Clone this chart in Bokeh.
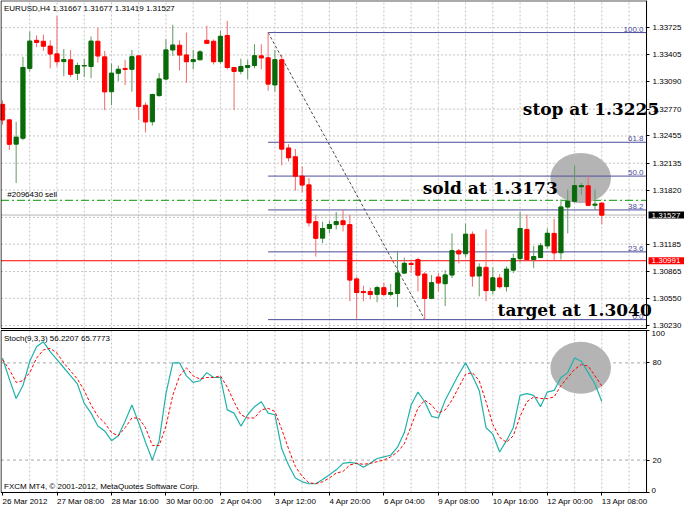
from bokeh.plotting import figure
from bokeh.models import (ColumnDataSource, FixedTicker, PrintfTickFormatter,
                          Label, Range1d, LinearAxis)
from bokeh.core.properties import value
from bokeh.embed import file_html
from bokeh.resources import INLINE

# ---------------- data ----------------
header_text = "EURUSD,H4  1.31667 1.31677 1.31419 1.31527"
stoch_header = "Stoch(9,3,3) 56.2207 65.7773"
copyright_text = "FXCM MT4, \u00a9 2001-2012, MetaQuotes Software Corp."

opens = [1.32826, 1.32644, 1.32359, 1.32428, 1.33247, 1.33577, 1.33566, 1.33509, 1.33418, 1.33327,
         1.33349, 1.33190, 1.33276, 1.33270, 1.33566, 1.33383, 1.32974, 1.33190, 1.33247, 1.33236,
         1.33395, 1.32815, 1.32621, 1.32928, 1.33122, 1.33463, 1.33520, 1.33406, 1.33327, 1.33349,
         1.33577, 1.33566, 1.33327, 1.33634, 1.33258, 1.33213, 1.33258, 1.33281, 1.33395, 1.33372,
         1.33053, 1.33349, 1.32314, 1.32211, 1.31984, 1.31881, 1.31449, 1.31256, 1.31369, 1.31415,
         1.31460, 1.31415, 1.30778, 1.30630, 1.30630, 1.30596, 1.30675, 1.30596, 1.30607, 1.30846,
         1.30960, 1.31005, 1.30835, 1.30550, 1.30800, 1.30721, 1.30823, 1.31108, 1.31073, 1.31301,
         1.30812, 1.30914, 1.30641, 1.30789, 1.30687, 1.30880, 1.31016, 1.31358, 1.31005, 1.31028,
         1.31165, 1.31312, 1.31085, 1.31620, 1.31688, 1.31859, 1.31870, 1.31642, 1.31667]
highs = [1.32871, 1.32650, 1.32621, 1.33383, 1.33679, 1.33634, 1.33645, 1.33577, 1.33862, 1.33475,
         1.33463, 1.33315, 1.33361, 1.33623, 1.33725, 1.33452, 1.33304, 1.33281, 1.33349, 1.33463,
         1.33400, 1.32849, 1.32951, 1.33190, 1.33588, 1.33759, 1.33577, 1.33668, 1.33463, 1.33463,
         1.33748, 1.33588, 1.33691, 1.33805, 1.33262, 1.33361, 1.33349, 1.33531, 1.33531, 1.33668,
         1.33463, 1.33406, 1.32359, 1.32302, 1.32098, 1.31961, 1.31529, 1.31449, 1.31460, 1.31563,
         1.31586, 1.31529, 1.30800, 1.30698, 1.30675, 1.30698, 1.30732, 1.30721, 1.31108, 1.31028,
         1.30982, 1.31028, 1.30857, 1.30823, 1.30846, 1.30880, 1.31312, 1.31130, 1.31426, 1.31335,
         1.30960, 1.31358, 1.30914, 1.30835, 1.30925, 1.31073, 1.31563, 1.31529, 1.31165, 1.31199,
         1.31369, 1.31483, 1.31711, 1.31825, 1.32109, 1.31904, 1.31984, 1.31825, 1.31677]
lows = [1.32587, 1.32291, 1.31904, 1.32405, 1.33213, 1.33497, 1.33452, 1.33247, 1.33270, 1.33156,
        1.33145, 1.33110, 1.33145, 1.33133, 1.33315, 1.32758, 1.32815, 1.33099, 1.33053, 1.32974,
        1.32644, 1.32496, 1.32576, 1.32917, 1.33110, 1.33395, 1.33224, 1.33076, 1.33236, 1.33338,
        1.33540, 1.33293, 1.33304, 1.33236, 1.32758, 1.33179, 1.33122, 1.33247, 1.33236, 1.32985,
        1.32974, 1.32109, 1.32155, 1.31813, 1.31790, 1.31392, 1.31039, 1.31199, 1.31312, 1.31358,
        1.31335, 1.30516, 1.30311, 1.30516, 1.30539, 1.30505, 1.30573, 1.30573, 1.30448, 1.30835,
        1.30846, 1.30630, 1.30300, 1.30539, 1.30630, 1.30459, 1.30789, 1.30960, 1.31028, 1.30687,
        1.30573, 1.30516, 1.30596, 1.30664, 1.30630, 1.30846, 1.30971, 1.30994, 1.30903, 1.31025,
        1.31130, 1.30994, 1.31005, 1.31312, 1.31677, 1.31767, 1.31640, 1.31586, 1.31419]
closes = [1.32644, 1.32359, 1.32439, 1.33258, 1.33566, 1.33554, 1.33509, 1.33418, 1.33327, 1.33349,
          1.33179, 1.33281, 1.33281, 1.33566, 1.33395, 1.32974, 1.33190, 1.33236, 1.33236, 1.33383,
          1.32803, 1.32621, 1.32940, 1.33122, 1.33463, 1.33520, 1.33406, 1.33327, 1.33349, 1.33440,
          1.33543, 1.33327, 1.33623, 1.33258, 1.33213, 1.33270, 1.33281, 1.33395, 1.33372, 1.33065,
          1.33349, 1.32302, 1.32200, 1.31984, 1.31881, 1.31437, 1.31256, 1.31369, 1.31415, 1.31449,
          1.31415, 1.30766, 1.30618, 1.30618, 1.30596, 1.30675, 1.30596, 1.30618, 1.30846, 1.30960,
          1.30948, 1.30823, 1.30550, 1.30732, 1.30732, 1.30823, 1.31108, 1.31073, 1.31301, 1.30812,
          1.30914, 1.30641, 1.30789, 1.30687, 1.30891, 1.31016, 1.31369, 1.31005, 1.31039, 1.31165,
          1.31312, 1.31085, 1.31620, 1.31688, 1.31870, 1.31870, 1.31642, 1.31654, 1.31527]

stoch_main = [83, 70, 58, 66, 81, 90, 93, 87, 82, 77, 72, 67, 55, 49, 41, 38, 32, 35, 44, 54,
              43, 31, 20, 32, 61, 80, 80, 72, 68, 69, 74, 71, 71, 51, 49, 41, 48, 53, 56, 49,
              48, 27, 17, 9, 6.6, 5.4, 5.4, 8, 11, 14, 18, 18.6, 18, 15.6, 18, 21, 22, 23, 28, 37,
              54, 62, 56, 47, 46, 57, 65, 73, 80, 72, 63, 40, 36, 25, 32, 40, 60, 61, 60, 53,
              62, 63, 71, 74, 83, 81, 74, 67, 56.2207]
stoch_signal = [82, 76, 68, 69, 74, 83, 88, 89, 86, 80, 75, 70, 63, 54, 47, 43, 37, 35, 40, 46,
                46, 40, 29, 29, 41, 60, 72, 77, 72, 70, 71, 71, 72, 65, 56, 48, 46, 46, 51, 52,
                50, 39, 27, 16, 10, 6, 5.5, 6.6, 9, 12, 13, 17, 18, 17.4, 18, 19, 20, 22, 25, 30,
                41, 52, 57, 54, 49, 51, 57, 65, 73, 74, 69, 56, 42, 34, 31, 35, 47, 56, 59, 58,
                58, 59, 66, 71, 76, 79, 78, 72, 65.7773]

x_tick_bars = [0, 8, 16, 24, 32, 40, 48, 56, 64, 72, 80, 88]
x_tick_labels = ["26 Mar 2012", "27 Mar 08:00", "28 Mar 16:00", "30 Mar 00:00", "2 Apr 04:00",
                 "3 Apr 12:00", "4 Apr 20:00", "6 Apr 04:00", "9 Apr 08:00", "10 Apr 16:00",
                 "12 Apr 00:00", "13 Apr 08:00"]
price_grid = [1.33725, 1.33405, 1.33090, 1.32770, 1.32455, 1.32135, 1.31820, 1.31500,
              1.31185, 1.30865, 1.30550, 1.30230]
price_axis_ticks = [1.33725, 1.33405, 1.33090, 1.32770, 1.32455, 1.32135, 1.31820,
                    1.31185, 1.30865, 1.30550, 1.30230]
stoch_ticks = [0, 20, 80, 100]
stoch_levels = [20, 80]
stoch_end_labels = ["100", "0"]

fib_anchor_bars = [39, 62]
fib_levels = [1.33668, 1.32381, 1.31984, 1.31587, 1.31095, 1.30300]
fib_labels = ["100.0", "61.8", "50.0", "38.2", "23.6", "0.0"]

order_price = 1.31700
order_label = "#2096430 sell"
bid_price = 1.31527
alert_price = 1.30991

notes = ["stop at 1.3225", "sold at 1.3173", "target at 1.3040"]
note_bars = [76.4, 61.7, 72.7]
note_prices = [1.32769, 1.31842, 1.30414]

# highlight ellipses (centre bar, centre value, width in bars, height in value units)
main_ring = (84.9, 1.31961, 8.9, 0.0059)
stoch_ring = (84.9, 77, 8.9, 32)

# ---------------- layout constants ----------------
W, H = 684, 509
FONT = "Liberation Sans"
SMALL = "8px"
GRID_COLOR = "#c4c4c4"
FIB_COLOR = "#4c4c9c"

BAR_PX = 6.81
X_START = -0.297
X_END = X_START + W / BAR_PX
X_LEFT = X_START + 0.5 / BAR_PX          # left border of both panes
X_EDGE = 94.57                           # right border of both panes (price scale line)

MAIN_TOP, MAIN_BOTTOM = 1.34040, 1.30196  # main pane border prices
PRICE_PX = 328 / (1.34044 - 1.30196)      # pixels per price unit
Y_START, Y_END = 1.34044 - H / PRICE_PX, 1.34044
ST_PX = 162 / 100.0                       # pixels per stochastic unit (pane 330..492 px)
ST_START, ST_END = -(H - 492) / ST_PX, 100 + 330 / ST_PX

n = len(opens)
bars = list(range(n))
up = [c >= o for o, c in zip(opens, closes)]
half = 0.31
src = ColumnDataSource(dict(
    x=bars, o=opens, h=highs, l=lows, c=closes,
    top=[max(o, c) for o, c in zip(opens, closes)],
    bottom=[min(o, c) for o, c in zip(opens, closes)],
    x0=[b - half for b in bars], x1=[b + half for b in bars],
    body=["#0a6a0a" if u else "#ff0000" for u in up],
    wick=["#5f9c5f" if u else "#f06a6a" for u in up],
))

p = figure(width=W, height=H, x_range=Range1d(X_START, X_END), y_range=Range1d(Y_START, Y_END),
           x_axis_location=None, y_axis_location=None,
           output_backend="svg", toolbar_location=None, min_border=0)
p.extra_y_ranges = {"stoch": Range1d(ST_START, ST_END)}
p.outline_line_color = None
p.background_fill_color = "white"
p.border_fill_color = "white"
p.xgrid.visible = False
p.ygrid.visible = False

vgrid = list(range(4, 96, 4))
# ---- main pane grid ----
p.segment(x0=[X_LEFT] * len(price_grid), y0=price_grid, x1=[X_EDGE] * len(price_grid), y1=price_grid,
          line_color=GRID_COLOR, line_dash="2 2", line_width=1)
p.segment(x0=vgrid, y0=[MAIN_BOTTOM] * len(vgrid), x1=vgrid, y1=[MAIN_TOP] * len(vgrid),
          line_color=GRID_COLOR, line_dash="2 2", line_width=1)
# ---- stochastic pane grid ----
p.segment(x0=vgrid, y0=[0] * len(vgrid), x1=vgrid, y1=[100] * len(vgrid), y_range_name="stoch",
          line_color=GRID_COLOR, line_dash="2 2", line_width=1)
p.segment(x0=[X_LEFT] * 2, y0=stoch_levels, x1=[X_EDGE] * 2, y1=stoch_levels, y_range_name="stoch",
          line_color="#a8a8a8", line_dash="3 3", line_width=1)

# ---- horizontal order / price lines ----
for loc, col, dash in ((alert_price, "#ff0000", "solid"), (bid_price, "#b4b4b4", "solid"),
                       (order_price, "#009900", "8 3 2 3")):
    p.segment(x0=[X_LEFT], y0=[loc], x1=[X_EDGE], y1=[loc], line_color=col, line_width=1,
              line_dash=dash)

cx, cy, cw, ch = main_ring
p.ellipse(x=[cx], y=[cy], width=[cw], height=[ch], fill_color="#b4b4b4", line_color=None)
cx, cy, cw, ch = stoch_ring
p.ellipse(x=[cx], y=[cy], width=[cw], height=[ch], fill_color="#b4b4b4", line_color=None,
          y_range_name="stoch")

# ---- Fibonacci retracement ----
p.segment(x0=[fib_anchor_bars[0]] * len(fib_levels), y0=fib_levels,
          x1=[X_EDGE] * len(fib_levels), y1=fib_levels, line_color=FIB_COLOR, line_width=1)
p.line(x=fib_anchor_bars, y=[fib_levels[0], fib_levels[-1]], line_color="#505050",
       line_width=1, line_dash="3 2")
for lvl, txt in zip(fib_levels, fib_labels):
    p.add_layout(Label(x=X_EDGE, y=lvl, x_offset=-3, y_offset=1, text=txt,
                       text_align="right", text_baseline="bottom",
                       text_font=FONT, text_font_size=SMALL, text_color=FIB_COLOR))

# ---- candles ----
p.segment(x0="x", y0="h", x1="x", y1="l", line_color="wick", line_width=1, source=src)
p.vbar(x="x", top="top", bottom="bottom", width=2 * half, fill_color="body",
       line_color="body", line_width=1, source=src)
p.segment(x0="x0", y0="c", x1="x1", y1="c", line_color="body", line_width=1, source=src)

# ---- stochastic lines ----
p.line(x=bars, y=stoch_main, line_color="#20b2aa", line_width=1.2, y_range_name="stoch")
p.line(x=bars, y=stoch_signal, line_color="#ff0000", line_width=1, line_dash="3 2",
       y_range_name="stoch")

# ---- pane borders ----
p.quad(left=[X_LEFT], right=[X_EDGE], top=[MAIN_TOP], bottom=[MAIN_BOTTOM],
       fill_color=None, line_color="black", line_width=1)
p.quad(left=[X_LEFT], right=[X_EDGE], top=[100], bottom=[0], y_range_name="stoch",
       fill_color=None, line_color="black", line_width=1)

# ---- axes (drawn at the pane edge) ----
price_axis = LinearAxis(ticker=FixedTicker(ticks=price_axis_ticks),
                        formatter=PrintfTickFormatter(format="%.5f"),
                        fixed_location=X_EDGE, bounds=(MAIN_BOTTOM, MAIN_TOP))
stoch_axis = LinearAxis(y_range_name="stoch", ticker=FixedTicker(ticks=stoch_ticks),
                        fixed_location=X_EDGE, bounds=(0, 100),
                        major_label_overrides={0: "", 100: ""})
time_axis = LinearAxis(y_range_name="stoch", ticker=FixedTicker(ticks=x_tick_bars),
                       fixed_location=0, bounds=(X_LEFT, X_EDGE),
                       major_label_overrides={b: "" for b in x_tick_bars})
for a in (price_axis, stoch_axis, time_axis):
    a.major_label_text_font = FONT
    a.major_label_text_font_size = SMALL
    a.major_label_text_color = "black"
    a.major_tick_out = 3
    a.major_tick_in = 0
    a.minor_tick_out = 0
    a.minor_tick_in = 0
    a.major_label_standoff = 3
    a.axis_line_color = "black"
    a.major_tick_line_color = "black"
p.add_layout(price_axis, "right")
p.add_layout(stoch_axis, "right")
p.add_layout(time_axis, "below")

# time labels, left-aligned at their bar like MT4
p.text(x=x_tick_bars, y=[-2.8] * len(x_tick_bars), text=x_tick_labels, y_range_name="stoch",
       text_align="left", text_baseline="top", text_font=value(FONT),
       text_font_size=value(SMALL), text_color="black")

# stochastic end labels, inside the pane like MT4
for v, txt, base in zip([100, 0], stoch_end_labels, ["top", "bottom"]):
    p.add_layout(Label(x=X_EDGE, y=v, y_range_name="stoch", x_offset=5, text=txt,
                       text_align="left", text_baseline=base,
                       text_font=FONT, text_font_size=SMALL, text_color="black"))

# ---- texts ----
p.add_layout(Label(x=X_LEFT, y=MAIN_TOP, x_offset=3, y_offset=-3, text=header_text,
                   text_baseline="top", text_font=FONT, text_font_size=SMALL, text_color="black"))
p.add_layout(Label(x=0.7, y=order_price, text=order_label, text_baseline="bottom", y_offset=1,
                   text_font=FONT, text_font_size=SMALL, text_color="black"))
p.add_layout(Label(x=X_LEFT, y=100, y_range_name="stoch", x_offset=3, y_offset=-3,
                   text=stoch_header, text_baseline="top",
                   text_font=FONT, text_font_size=SMALL, text_color="black"))
p.add_layout(Label(x=X_LEFT, y=0, y_range_name="stoch", x_offset=3, y_offset=2,
                   text=copyright_text, text_baseline="bottom",
                   text_font=FONT, text_font_size=SMALL, text_color="black"))
for txt, bx, py in zip(notes, note_bars, note_prices):
    p.add_layout(Label(x=bx, y=py, text=txt, text_baseline="middle", text_align="left",
                       text_font="DejaVu Serif", text_font_style="bold",
                       text_font_size="17px", text_color="black"))
for price, bg in ((bid_price, "black"), (alert_price, "#ff0000")):
    p.add_layout(Label(x=X_EDGE, y=price, x_offset=2, text="%.5f" % price,
                       text_align="left", text_baseline="middle",
                       text_font=FONT, text_font_size=SMALL, text_color="white",
                       background_fill_color=bg,
                       padding=dict(left=3, right=4, top=1, bottom=1)))

open("out.html", "w").write(file_html(p, INLINE))
